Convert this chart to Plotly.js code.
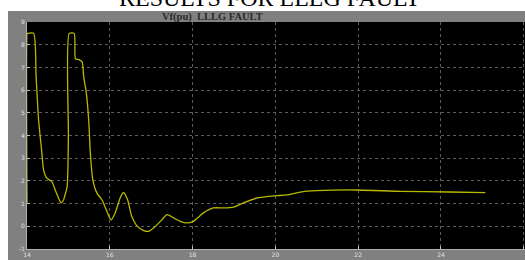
<!DOCTYPE html>
<html>
<head>
<meta charset="utf-8">
<script src="https://cdn.plot.ly/plotly-3.0.1.min.js"></script>
<style>
html,body{margin:0;padding:0;background:#fff;overflow:hidden;}
#wrap{position:relative;width:525px;height:260px;}
#panel{position:absolute;left:8px;top:11px;width:517px;height:249px;background:#808080;}
#chart{position:absolute;left:0;top:0;width:525px;height:260px;}
</style>
</head>
<body>
<div id="wrap"><div id="panel"></div><div id="chart"></div></div>
<script>
// time (s)
const timeVals = [14.0, 14.005, 14.01, 14.16, 14.22, 14.28, 14.36, 14.40, 14.48, 14.60, 14.68, 14.76, 14.82, 14.88, 14.92, 14.97, 15.0, 15.02, 15.14, 15.17, 15.25, 15.33, 15.37, 15.43, 15.49, 15.53, 15.59, 15.69, 15.81, 15.93, 16.03, 16.13, 16.25, 16.33, 16.43, 16.53, 16.65, 16.82, 16.94, 17.1, 17.26, 17.38, 17.54, 17.7, 17.86, 18.02, 18.26, 18.5, 18.75, 18.99, 19.23, 19.56, 19.84, 20.04, 20.28, 20.6, 21.0, 21.97, 23.02, 24.2, 25.07];
// Vf (pu)
const vfVals = [1.0, 8.5, 8.5, 8.5, 6.6, 4.68, 3.22, 2.49, 2.12, 1.97, 1.61, 1.25, 1.03, 1.15, 1.39, 1.75, 4.0, 8.5, 8.5, 7.38, 7.34, 7.24, 6.58, 5.92, 4.68, 3.22, 2.05, 1.46, 1.17, 0.66, 0.28, 0.59, 1.25, 1.49, 1.17, 0.44, 0.03, -0.19, -0.22, 0.0, 0.29, 0.51, 0.37, 0.22, 0.15, 0.22, 0.59, 0.81, 0.81, 0.85, 1.03, 1.25, 1.32, 1.35, 1.38, 1.51, 1.57, 1.6, 1.54, 1.51, 1.48];
const xTicks = [14, 16, 18, 20, 22, 24, 26];
const yTicks = [-1, 0, 1, 2, 3, 4, 5, 6, 7, 8, 9];
const chartTitle = 'RESULTS FOR LLLG FAULT';
const scopeTitle = 'Vf(pu)&nbsp;&nbsp;LLLG FAULT';

const trace = {
  x: timeVals, y: vfVals, type: 'scatter', mode: 'lines',
  line: {color: '#b8b800', width: 1.3, shape: 'spline', smoothing: 0.6},
  hoverinfo: 'none'
};
const layout = {
  width: 525, height: 260,
  margin: {l: 27, r: 0, t: 22, b: 11, pad: 0},
  paper_bgcolor: 'rgba(0,0,0,0)',
  plot_bgcolor: '#000000',
  showlegend: false,
  xaxis: {
    range: [14, 26.03], tickvals: xTicks, ticktext: xTicks.map(String),
    showgrid: true, gridcolor: '#5c5c5c', griddash: 'dot', gridwidth: 1,
    zeroline: false, showline: true, linecolor: '#b0b0b0', linewidth: 1,
    ticks: 'inside', ticklen: 3, tickcolor: '#c0c0c0',
    tickfont: {family: 'DejaVu Sans', size: 6, color: '#e0e0e0'}
  },
  yaxis: {
    range: [-1, 9], tickvals: yTicks, ticktext: yTicks.map(String),
    showgrid: true, gridcolor: '#5c5c5c', griddash: 'dot', gridwidth: 1,
    zeroline: false, showline: true, linecolor: '#b0b0b0', linewidth: 1,
    ticks: 'inside', ticklen: 3, tickcolor: '#c0c0c0',
    tickfont: {family: 'DejaVu Sans', size: 6, color: '#e0e0e0'}
  },
  annotations: [
    {text: chartTitle, xref: 'paper', yref: 'paper', x: (270 - 27) / 498, y: 1 + (22 - 13) / 227,
     xanchor: 'center', yanchor: 'bottom', showarrow: false,
     font: {family: 'Liberation Serif', size: 24, color: '#000000'}},
    {text: '<b>' + scopeTitle + '</b>', xref: 'paper', yref: 'paper', x: (212 - 27) / 498, y: 1 + (22 - 17) / 227,
     xanchor: 'center', yanchor: 'middle', showarrow: false,
     font: {family: 'Liberation Serif', size: 10.5, color: '#2a2a2a'}}
  ]
};
Plotly.newPlot('chart', [trace], layout, {staticPlot: true, displayModeBar: false});
</script>
</body>
</html>
